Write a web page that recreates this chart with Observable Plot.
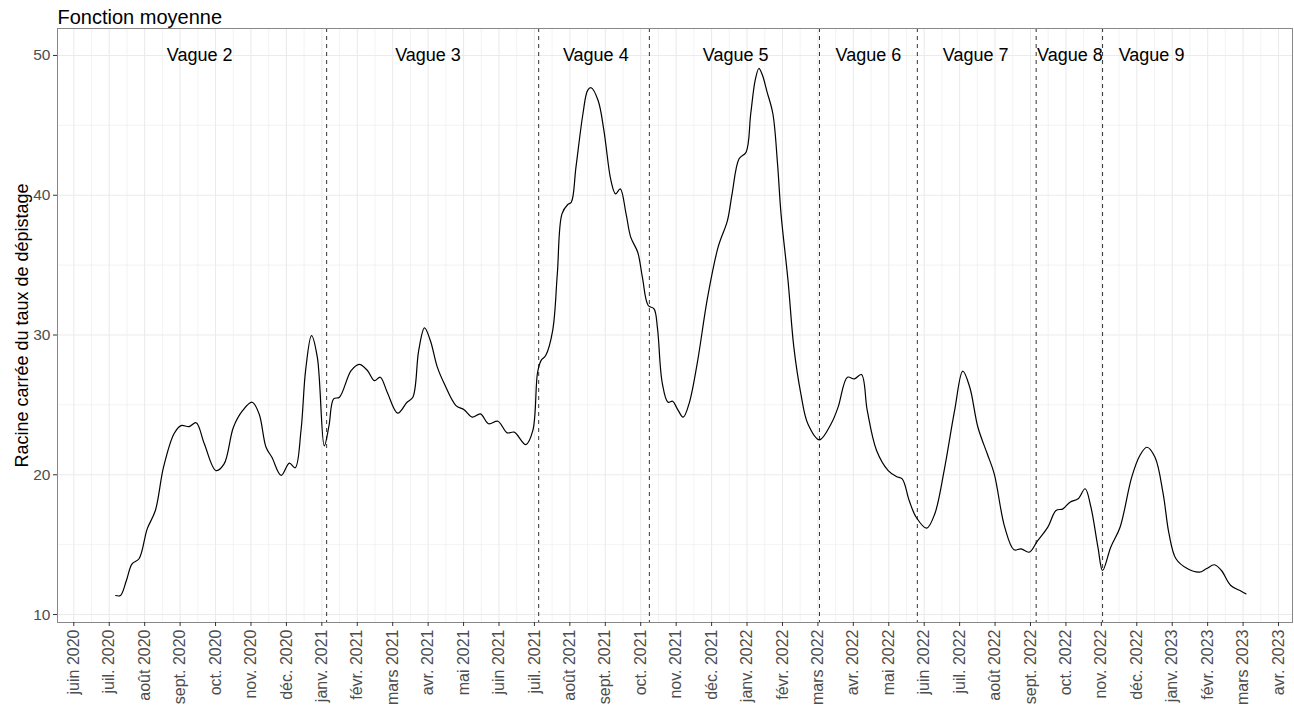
<!DOCTYPE html>
<html><head><meta charset="utf-8">
<script src="https://cdn.jsdelivr.net/npm/d3@7"></script>
<script src="https://cdn.jsdelivr.net/npm/@observablehq/plot@0.6"></script>
<style>body{margin:0;background:#fff;font-family:"Liberation Sans",Arial,sans-serif}</style>
</head><body><div id="chart"></div>
<script>
const dates = ["2020-07-07","2020-07-11","2020-07-16","2020-07-21","2020-07-27","2020-08-03","2020-08-10","2020-08-17","2020-08-26","2020-09-01","2020-09-08","2020-09-14","2020-09-21","2020-10-01","2020-10-08","2020-10-16","2020-10-24","2020-11-01","2020-11-07","2020-11-13","2020-11-18","2020-11-26","2020-12-03","2020-12-08","2020-12-13","2020-12-17","2020-12-22","2020-12-27","2021-01-02","2021-01-06","2021-01-10","2021-01-15","2021-01-25","2021-02-01","2021-02-08","2021-02-14","2021-02-19","2021-02-25","2021-03-06","2021-03-14","2021-03-19","2021-03-24","2021-03-29","2021-04-03","2021-04-09","2021-04-15","2021-04-25","2021-05-02","2021-05-09","2021-05-16","2021-05-23","2021-05-31","2021-06-08","2021-06-14","2021-06-24","2021-06-30","2021-07-04","2021-07-07","2021-07-11","2021-07-17","2021-07-21","2021-07-25","2021-07-30","2021-08-02","2021-08-06","2021-08-12","2021-08-16","2021-08-19","2021-08-25","2021-08-30","2021-09-05","2021-09-09","2021-09-13","2021-09-18","2021-09-22","2021-09-28","2021-10-02","2021-10-07","2021-10-12","2021-10-15","2021-10-19","2021-10-24","2021-10-28","2021-11-01","2021-11-06","2021-11-11","2021-11-18","2021-11-27","2021-12-06","2021-12-14","2021-12-18","2021-12-24","2021-12-30","2022-01-03","2022-01-07","2022-01-10","2022-01-13","2022-01-17","2022-01-22","2022-01-26","2022-01-29","2022-02-04","2022-02-09","2022-02-15","2022-02-21","2022-03-03","2022-03-13","2022-03-19","2022-03-27","2022-04-02","2022-04-08","2022-04-13","2022-04-21","2022-05-01","2022-05-08","2022-05-13","2022-05-19","2022-05-25","2022-06-03","2022-06-10","2022-06-18","2022-06-27","2022-07-04","2022-07-10","2022-07-17","2022-07-25","2022-07-31","2022-08-09","2022-08-17","2022-08-23","2022-08-30","2022-09-06","2022-09-15","2022-09-22","2022-09-28","2022-10-04","2022-10-11","2022-10-17","2022-10-22","2022-10-28","2022-11-01","2022-11-08","2022-11-16","2022-11-26","2022-12-03","2022-12-09","2022-12-16","2022-12-23","2022-12-28","2023-01-03","2023-01-13","2023-01-23","2023-01-29","2023-02-05","2023-02-11","2023-02-19","2023-02-28","2023-03-04"];
const values = [11.36,11.36,12.4,13.63,13.99,16.13,17.44,20.54,22.93,23.52,23.45,23.72,22.22,20.30,20.78,23.40,24.60,25.19,24.36,21.97,21.25,19.95,20.83,20.50,23.17,27.5,29.95,28.41,22.07,23.5,25.43,25.55,27.45,27.9,27.46,26.74,26.98,25.91,24.41,25.19,25.55,28.89,30.51,29.61,27.70,26.51,24.95,24.65,24.12,24.36,23.65,23.83,23.00,23.05,22.16,23.17,27.3,28.17,28.53,30.32,34.38,38.67,39.34,39.50,42.01,45.83,47.50,47.69,46.78,44.63,41.06,40.10,40.46,38.67,37.00,35.92,34.14,32.11,31.87,30.45,26.6,25.19,25.26,24.72,24.12,25.07,27.94,32.71,36.29,38.19,40.10,42.61,43.08,45.83,48.3,49.07,48.6,47.4,45.83,42.25,38.67,33.90,29.13,25.8,23.65,22.50,23.65,24.84,26.98,26.86,27.17,24.60,21.74,20.30,19.87,19.71,18.16,16.96,16.18,17.21,20.30,24.60,27.41,26.26,23.40,21.50,20.07,16.25,14.63,14.70,14.46,15.25,16.25,17.44,17.56,18.04,18.28,19.00,17.68,14.82,13.15,14.82,16.25,19.83,21.38,21.97,21.25,18.63,15.78,13.99,13.27,13.03,13.27,13.56,13.15,12.08,11.67,11.48];

const waveBounds = ["2021-01-04","2021-07-05","2021-10-08","2022-03-03","2022-05-26","2022-09-05","2022-11-01"];
const waveLabels = ["Vague 2","Vague 3","Vague 4","Vague 5","Vague 6","Vague 7","Vague 8","Vague 9"];
const waveLabelDates = ["2020-09-17","2021-04-01","2021-08-23","2021-12-21","2022-04-14","2022-07-15","2022-10-04","2022-12-13"];
const waveLabelValue = 50;

const tickLabels = ["juin 2020","juil. 2020","août 2020","sept. 2020","oct. 2020","nov. 2020","déc. 2020","janv. 2021","févr. 2021","mars 2021","avr. 2021","mai 2021","juin 2021","juil. 2021","août 2021","sept. 2021","oct. 2021","nov. 2021","déc. 2021","janv. 2022","févr. 2022","mars 2022","avr. 2022","mai 2022","juin 2022","juil. 2022","août 2022","sept. 2022","oct. 2022","nov. 2022","déc. 2022","janv. 2023","févr. 2023","mars 2023","avr. 2023"];
const firstTick = "2020-06-01", lastTick = "2023-04-01";
const xDomain = ["2020-05-18","2023-04-13"];
const yTicks = [10,20,30,40,50];
const yMinor = [15,25,35,45];
const yDomain = [9.43, 51.93];

const title = "Fonction moyenne";
const yTitle = "Racine carrée du taux de dépistage";

const parse = d3.utcParse("%Y-%m-%d");
const data = dates.map((d, i) => ({date: parse(d), value: values[i]}));
const waves = waveLabels.map((l, i) => ({label: l, date: parse(waveLabelDates[i]), value: waveLabelValue}));
const t0 = parse(firstTick), t1 = parse(lastTick);
const n = tickLabels.length;
const xTicks = d3.range(n).map(i => new Date(+t0 + i * (t1 - t0) / (n - 1)));
const labelMap = new Map(xTicks.map((t, i) => [+t, tickLabels[i]]));
const xMinor = d3.range(n - 1).map(i => new Date((+xTicks[i] + +xTicks[i + 1]) / 2));

const chart = Plot.plot({
  width: 1294, height: 712,
  marginTop: 28, marginBottom: 90, marginLeft: 57, marginRight: 2,
  style: {fontFamily: "'Liberation Sans', Arial, sans-serif", fontSize: "15px", color: "#4d4d4d", background: "white", overflow: "visible"},
  x: {type: "utc", domain: xDomain.map(parse)},
  y: {domain: yDomain},
  marks: [
    Plot.gridX(xMinor, {stroke: "#ebebeb", strokeOpacity: 1, strokeWidth: 0.6}),
    Plot.gridY(yMinor, {stroke: "#ebebeb", strokeOpacity: 1, strokeWidth: 0.6}),
    Plot.gridX(xTicks, {stroke: "#ebebeb", strokeOpacity: 1, strokeWidth: 1.1}),
    Plot.gridY(yTicks, {stroke: "#ebebeb", strokeOpacity: 1, strokeWidth: 1.1}),
    Plot.ruleX(waveBounds.map(parse), {stroke: "#333", strokeWidth: 1, strokeDasharray: "4,4"}),
    Plot.line(data, {x: "date", y: "value", stroke: "black", strokeWidth: 1.2, curve: "catmull-rom"}),
    Plot.text(waves, {x: "date", y: "value", text: "label", fill: "black", fontSize: 18}),
    Plot.frame({stroke: "#888", strokeWidth: 1}),
    Plot.axisX(xTicks, {tickFormat: d => labelMap.get(+d), tickRotate: -90, tickSize: 4, tickPadding: 3, fontSize: 16, label: null, stroke: "#333"}),
    Plot.axisY(yTicks, {tickSize: 4, tickPadding: 3, fontSize: 15.5, label: null, stroke: "#333"}),
    Plot.text([title], {frameAnchor: "top-left", textAnchor: "start", lineAnchor: "bottom", dy: -5, fill: "black", fontSize: 20}),
    Plot.text([yTitle], {frameAnchor: "left", textAnchor: "middle", rotate: -90, dx: -35, fill: "black", fontSize: 18})
  ]
});
document.getElementById("chart").appendChild(chart);
</script>
</body></html>
